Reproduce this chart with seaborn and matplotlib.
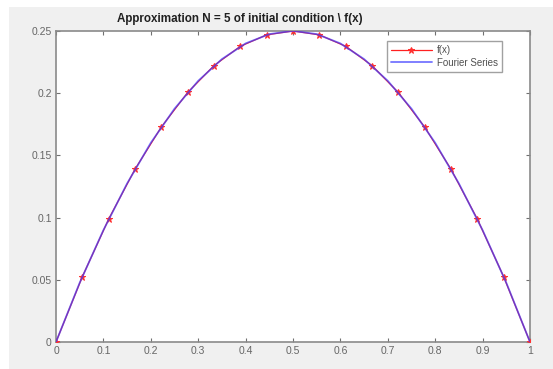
import matplotlib
matplotlib.use("Agg")
import matplotlib.pyplot as plt
import seaborn as sns
import pandas as pd
from matplotlib.patches import Rectangle

# data
x_pts = [0, 0.0556, 0.1111, 0.1667, 0.2222, 0.2778, 0.3333, 0.3889, 0.4444, 0.5,
         0.5556, 0.6111, 0.6667, 0.7222, 0.7778, 0.8333, 0.8889, 0.9444, 1.0]
f_pts = [0, 0.0525, 0.0988, 0.1389, 0.1728, 0.2006, 0.2222, 0.2377, 0.2469, 0.25,
         0.2469, 0.2377, 0.2222, 0.2006, 0.1728, 0.1389, 0.0988, 0.0525, 0]
x_fs = [0, 0.05, 0.1, 0.15, 0.2, 0.25, 0.3, 0.35, 0.4, 0.45, 0.5,
        0.55, 0.6, 0.65, 0.7, 0.75, 0.8, 0.85, 0.9, 0.95, 1.0]
fs_vals = [0, 0.0476, 0.0899, 0.1274, 0.1601, 0.1875, 0.2099, 0.2274, 0.2400, 0.2475, 0.2501,
           0.2475, 0.2400, 0.2274, 0.2099, 0.1875, 0.1601, 0.1274, 0.0899, 0.0476, 0]
x_ticks = [0, 0.1, 0.2, 0.3, 0.4, 0.5, 0.6, 0.7, 0.8, 0.9, 1]
x_tick_labels = ["0", "0.1", "0.2", "0.3", "0.4", "0.5", "0.6", "0.7", "0.8", "0.9", "1"]
y_ticks = [0, 0.05, 0.1, 0.15, 0.2, 0.25]
y_tick_labels = ["0", "0.05", "0.1", "0.15", "0.2", "0.25"]
title = r"Approximation N = 5 of initial condition \ f(x)"

sns.set_theme(style="white")
plt.rcParams["font.family"] = ["Liberation Sans", "DejaVu Sans"]

W, H = 553, 369
fig = plt.figure(figsize=(W / 100, H / 100), dpi=100, facecolor="white")
fig.patches.append(Rectangle((9 / W, 0), 1, 1 - 7 / H, transform=fig.transFigure,
                             facecolor="#f0f0f0", edgecolor="none", zorder=-10))

ax = fig.add_axes([56 / W, 1 - 342 / H, (530 - 56) / W, (342 - 31) / H])
ax.set_zorder(5)
ax.set_facecolor("white")

df_f = pd.DataFrame({"x": x_pts, "y": f_pts})
df_s = pd.DataFrame({"x": x_fs, "y": fs_vals})
sns.lineplot(data=df_f, x="x", y="y", ax=ax, color="#ff2020", lw=0.9, marker="*",
             markersize=5, markeredgecolor="#ff3030", markerfacecolor="#ff3030",
             label="f(x)", zorder=3)
sns.lineplot(data=df_s, x="x", y="y", ax=ax, color="#3a3aff", lw=1.3, alpha=0.7,
             label="Fourier Series", zorder=4)

ax.set_xlim(0, 1)
ax.set_ylim(0, 0.25)
ax.set_xticks(x_ticks)
ax.set_xticklabels(x_tick_labels)
ax.set_yticks(y_ticks)
ax.set_yticklabels(y_tick_labels)
ax.set_xlabel("")
ax.set_ylabel("")
ax.tick_params(direction="in", length=3, width=0.8, color="#707070",
               labelsize=7.5, labelcolor="#666666", top=True, right=True,
               bottom=True, left=True, pad=3)
for s in ax.spines.values():
    s.set_color("#8a8a8a")
    s.set_linewidth(1.2)

fig.text(240 / W, 1 - 19 / H, title, ha="center", va="center",
         fontsize=8.4, fontweight="bold", color="#202020")

leg = ax.legend(loc="upper right", bbox_to_anchor=((502 - 56) / 474, (342 - 41) / 311),
                borderaxespad=0, fontsize=7, frameon=True, fancybox=False,
                handlelength=4.2, borderpad=0.45, labelspacing=0.25, handletextpad=0.5)
leg.get_frame().set_edgecolor("#8a8a8a")
leg.get_frame().set_linewidth(1.0)
for t in leg.get_texts():
    t.set_color("#505050")

fig.savefig("out.png", dpi=100, facecolor="white")
